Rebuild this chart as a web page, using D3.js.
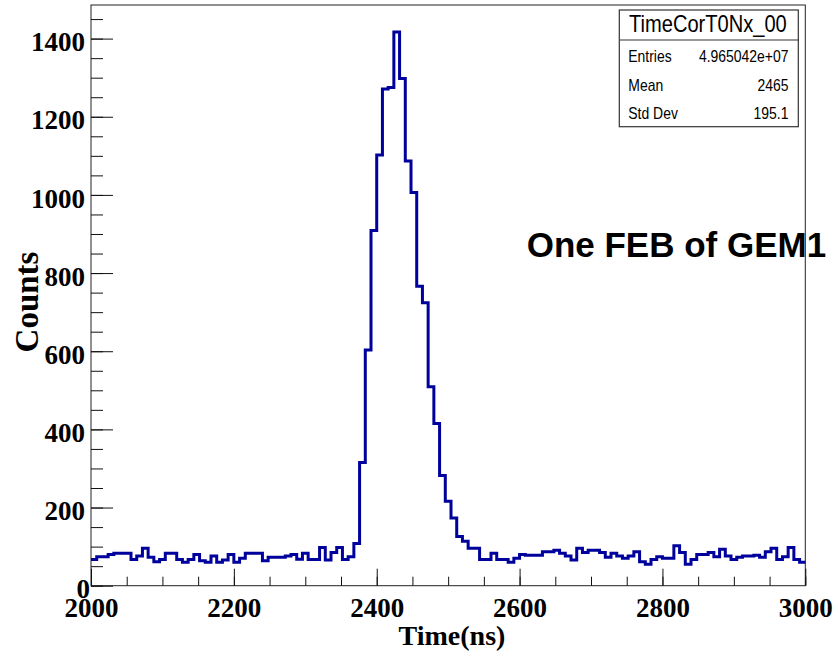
<!DOCTYPE html>
<html>
<head>
<meta charset="utf-8">
<script src="https://cdn.jsdelivr.net/npm/d3@7"></script>
<style>
  body { margin: 0; background: #fff; overflow: hidden; }
  svg { display: block; }
</style>
</head>
<body>
<div id="chart"></div>
<script>
// histogram definition: 8 ns bins starting at 2000 ns
var binStart = 2000
var binWidth = 8
var counts = [
  67, 74, 74, 80, 83, 83, 83, 67, 76, 96,
  73, 61, 67, 83, 83, 67, 60, 67, 80, 64,
  60, 76, 60, 66, 80, 60, 70, 83, 83, 83,
  64, 73, 73, 73, 76, 80, 68, 83, 67, 67,
  98, 66, 85, 98, 67, 74, 108, 315, 603, 909,
  1102, 1271, 1275, 1417, 1298, 1087, 1006, 766, 724, 509,
  415, 282, 216, 173, 126, 114, 96, 96, 67, 67,
  83, 67, 67, 60, 70, 80, 78, 78, 78, 87,
  87, 91, 83, 76, 66, 96, 85, 91, 91, 85,
  73, 83, 76, 70, 76, 87, 61, 55, 67, 74,
  70, 70, 102, 85, 55, 67, 80, 80, 85, 74,
  93, 76, 67, 73, 76, 76, 78, 73, 87, 96,
  67, 74, 98, 67, 60
]

var xTicks = [2000, 2200, 2400, 2600, 2800, 3000]
var yTicks = [0, 200, 400, 600, 800, 1000, 1200, 1400]
var xDomain = [2000, 3000]
var yDomain = [0, 1486]

var histName = "TimeCorT0Nx_00"
var statNames = ["Entries", "Mean", "Std Dev"]
var statValues = ["4.965042e+07", "2465", "195.1"]
var note = "One FEB of GEM1"
var xTitle = "Time(ns)"
var yTitle = "Counts"

var width = 835, height = 655
var frame = { left: 91, right: 805.3, top: 5, bottom: 585.7 }
var lineColor = "#00009c"
var serif = "'Liberation Serif', 'Times New Roman', serif"
var sans = "'Liberation Sans', Arial, sans-serif"

var svg = d3.select("#chart").append("svg")
  .attr("width", width)
  .attr("height", height)

var x = d3.scaleLinear().domain(xDomain).range([frame.left, frame.right])
var y = d3.scaleLinear().domain(yDomain).range([frame.bottom, frame.top])

// frame
svg.append("rect")
  .attr("x", frame.left)
  .attr("y", frame.top)
  .attr("width", frame.right - frame.left)
  .attr("height", frame.bottom - frame.top)
  .attr("fill", "none")
  .attr("stroke", "#222")
  .attr("stroke-width", 1)

// minor ticks every 50
var xMinor = d3.range(xDomain[0], xDomain[1] + 1, 50)
var yMinor = d3.range(0, yDomain[1], 50)

svg.append("g")
  .attr("transform", `translate(0,${frame.bottom})`)
  .call(d3.axisBottom(x).tickValues(xMinor).tickSize(-9).tickFormat(""))
  .call(g => g.select(".domain").remove())

svg.append("g")
  .attr("transform", `translate(${frame.left},0)`)
  .call(d3.axisLeft(y).tickValues(yMinor).tickSize(-12).tickFormat(""))
  .call(g => g.select(".domain").remove())

// major ticks + labels
var xAxis = svg.append("g")
  .attr("transform", `translate(0,${frame.bottom})`)
  .call(d3.axisBottom(x).tickValues(xTicks).tickSize(-17).tickPadding(12).tickFormat(d3.format("d")))
  .call(g => g.select(".domain").remove())

xAxis.selectAll("text")
  .style("font-family", serif)
  .style("font-weight", "bold")
  .style("font-size", "27px")
  .attr("fill", "#000")

var yAxis = svg.append("g")
  .attr("transform", `translate(${frame.left},0)`)
  .call(d3.axisLeft(y).tickValues(yTicks).tickSize(-22).tickPadding(6).tickFormat(d3.format("d")))
  .call(g => g.select(".domain").remove())

yAxis.selectAll("text")
  .attr("dy", "0.45em")
  .style("font-family", serif)
  .style("font-weight", "bold")
  .style("font-size", "27px")
  .attr("fill", "#000")

yAxis.selectAll("text").filter(d => d === 0).attr("x", -1)

svg.selectAll(".tick line").attr("stroke", "#111")

// histogram outline
var pts = counts.map((c, i) => [binStart + i * binWidth, c])
pts.push([binStart + counts.length * binWidth, counts[counts.length - 1]])

var line = d3.line()
  .x(d => x(d[0]))
  .y(d => y(d[1]))
  .curve(d3.curveStepAfter)

svg.append("path")
  .datum(pts)
  .attr("d", line)
  .attr("fill", "none")
  .attr("stroke", lineColor)
  .attr("stroke-width", 3)

// axis titles
svg.append("text")
  .attr("x", 452)
  .attr("y", 645)
  .attr("text-anchor", "middle")
  .style("font-family", serif)
  .style("font-weight", "bold")
  .style("font-size", "28px")
  .text(xTitle)

svg.append("text")
  .attr("transform", "rotate(-90)")
  .attr("x", -302)
  .attr("y", 38)
  .attr("text-anchor", "middle")
  .style("font-family", serif)
  .style("font-weight", "bold")
  .style("font-size", "33px")
  .text(yTitle)

// stats box
var box = { x: 619.3, y: 10, w: 179, h: 116.7, split: 40 }
var stats = svg.append("g")

stats.append("rect")
  .attr("x", box.x)
  .attr("y", box.y)
  .attr("width", box.w)
  .attr("height", box.h)
  .attr("fill", "#fff")
  .attr("stroke", "#333")
  .attr("stroke-width", 1.2)

stats.append("line")
  .attr("x1", box.x).attr("x2", box.x + box.w)
  .attr("y1", box.split).attr("y2", box.split)
  .attr("stroke", "#333")
  .attr("stroke-width", 1.2)

function squeeze(sel) {
  sel.each(function () {
    var len = this.getComputedTextLength()
    d3.select(this)
      .attr("textLength", len * 0.82)
      .attr("lengthAdjust", "spacingAndGlyphs")
  })
}

stats.append("text")
  .attr("x", 629)
  .attr("y", 32)
  .style("font-family", sans)
  .style("font-size", "24.5px")
  .text(histName)
  .call(squeeze)

var rowY = [61.5, 90.5, 118.5]

stats.selectAll(".statName")
  .data(statNames)
  .enter().append("text")
  .attr("class", "statName")
  .attr("x", 628.3)
  .attr("y", (d, i) => rowY[i])
  .style("font-family", sans)
  .style("font-size", "17px")
  .text(d => d)
  .call(squeeze)

stats.selectAll(".statValue")
  .data(statValues)
  .enter().append("text")
  .attr("class", "statValue")
  .attr("x", 788.5)
  .attr("y", (d, i) => rowY[i])
  .attr("text-anchor", "end")
  .style("font-family", sans)
  .style("font-size", "17px")
  .text(d => d)
  .call(squeeze)

// annotation
svg.append("text")
  .attr("x", 526.7)
  .attr("y", 256.7)
  .style("font-family", sans)
  .style("font-weight", "bold")
  .style("font-size", "35px")
  .text(note)
</script>
</body>
</html>
